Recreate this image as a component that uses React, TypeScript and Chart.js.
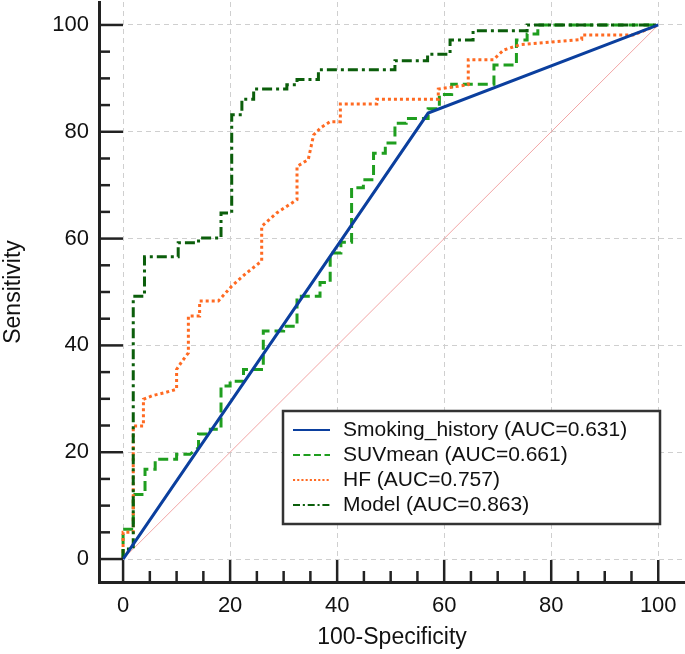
import React, { useEffect, useRef } from 'react';
import { Chart, registerables } from 'chart.js';

Chart.register(...registerables);

const FONT = "'Liberation Sans', Arial, Helvetica, sans-serif";

// Tick values
const majorTicks = [0, 20, 40, 60, 80, 100];
const minorTicks = [0, 5, 10, 15, 20, 25, 30, 35, 40, 45, 50, 55, 60, 65, 70, 75, 80, 85, 90, 95, 100];

const xAxisTitle = '100-Specificity';
const yAxisTitle = 'Sensitivity';

const seriesLabels = [
  'Smoking_history (AUC=0.631)',
  'SUVmean (AUC=0.661)',
  'HF (AUC=0.757)',
  'Model (AUC=0.863)',
];

// Smoking_history ROC
const smokingX = [0, 57.0, 100];
const smokingY = [0, 83.5, 100];

// SUVmean ROC
const suvX = [0, 0, 1.9, 1.9, 4.1, 4.1, 6.0, 6.0, 10.0, 10.0, 12.5, 14.1, 14.1, 16.3, 16.3, 18.3, 18.3, 20.0, 20.0, 22.5, 22.5, 26.2, 26.2, 30.0, 30.0, 32.5, 32.5, 36.8, 36.8, 38.7, 38.7, 40.7, 40.7, 42.7, 42.7, 44.9, 44.9, 46.8, 46.8, 49.0, 49.0, 50.8, 50.8, 52.9, 52.9, 57.0, 57.0, 59.1, 59.1, 61.4, 61.4, 69.3, 69.3, 73.5, 73.5, 75.5, 75.5, 77.5, 77.5, 100];
const suvY = [0, 5.6, 5.6, 12.1, 12.1, 16.8, 16.8, 18.7, 18.7, 19.6, 19.6, 20.9, 23.4, 23.4, 24.3, 24.3, 32.4, 32.4, 33.3, 33.3, 35.5, 35.5, 42.7, 42.7, 43.6, 43.6, 49.2, 49.2, 51.8, 51.8, 57.3, 57.3, 59.3, 59.3, 69.5, 69.5, 71.0, 71.0, 76.0, 76.0, 77.9, 77.9, 81.6, 81.6, 82.5, 82.5, 84.3, 84.3, 87.0, 87.0, 88.9, 88.9, 92.5, 92.5, 97.2, 97.2, 98.3, 98.3, 100, 100];

// HF ROC
const hfX = [0, 0, 1.9, 1.9, 3.8, 3.8, 5.5, 8.0, 10.0, 10.0, 11.0, 12.2, 12.2, 14.3, 14.3, 17.8, 20.3, 23.0, 25.9, 25.9, 28.7, 32.5, 32.5, 34.6, 35.6, 37.0, 38.7, 40.6, 40.6, 47.4, 47.4, 58.9, 58.9, 64.5, 64.5, 69.2, 71.1, 74.2, 80.0, 85.7, 85.7, 95.3, 100];
const hfY = [0, 5.0, 5.0, 24.9, 24.9, 29.9, 30.6, 31.2, 31.8, 35.5, 37.0, 38.6, 45.5, 45.5, 48.3, 48.3, 51.1, 53.5, 55.8, 62.3, 64.8, 67.3, 73.5, 74.8, 79.4, 80.8, 81.9, 81.9, 85.2, 85.2, 86.1, 86.1, 88.0, 88.8, 93.5, 93.5, 95.3, 96.3, 96.8, 97.3, 98.1, 98.1, 100];

// Model ROC
const modelX = [0, 0, 1.9, 1.9, 4.0, 4.0, 10.3, 10.3, 14.1, 14.1, 18.3, 18.3, 20.3, 20.3, 22.2, 22.2, 24.4, 24.4, 30.6, 30.6, 32.5, 32.5, 36.5, 36.5, 50.8, 50.8, 56.9, 56.9, 61.1, 61.1, 65.4, 65.4, 75.5, 75.5, 100];
const modelY = [0, 1.9, 1.9, 49.2, 49.2, 56.6, 56.6, 59.2, 59.2, 60.1, 60.1, 64.8, 64.8, 83.2, 83.2, 86.1, 86.1, 88.0, 88.0, 88.8, 88.8, 89.8, 89.8, 91.6, 91.6, 93.3, 93.3, 94.5, 94.5, 97.2, 97.2, 98.9, 98.9, 100, 100];

// Reference diagonal
const diagX = [0, 100];
const diagY = [0, 100];

const pairs = (xs: number[], ys: number[]) => xs.map((x, i) => ({ x, y: ys[i] }));

const seriesStyles = [
  { color: '#0b3f9e', dash: [] as number[], width: 3 },
  { color: '#1f9e1f', dash: [10, 5], width: 3 },
  { color: '#ff6a22', dash: [3, 3], width: 3 },
  { color: '#0b5e0b', dash: [10, 4, 3, 4], width: 3 },
];

const tickMarksPlugin = {
  id: 'tickMarks',
  afterDatasetsDraw(chart: any) {
    const { ctx, chartArea, scales } = chart;
    const x = scales.x;
    const y = scales.y;
    ctx.save();
    ctx.strokeStyle = '#222';
    ctx.lineWidth = 2.5;
    ctx.setLineDash([]);
    minorTicks.forEach((v) => {
      const major = majorTicks.includes(v);
      const px = x.getPixelForValue(v);
      ctx.beginPath();
      ctx.moveTo(px, chartArea.bottom);
      ctx.lineTo(px, chartArea.bottom - (major ? 22 : 11));
      ctx.stroke();
      const py = y.getPixelForValue(v);
      ctx.beginPath();
      ctx.moveTo(chartArea.left, py);
      ctx.lineTo(chartArea.left + (major ? 24 : 11), py);
      ctx.stroke();
    });
    ctx.restore();
  },
};

const legendPlugin = {
  id: 'boxLegend',
  afterDraw(chart: any) {
    const { ctx } = chart;
    const left = 283, top = 411, right = 660, bottom = 524;
    ctx.save();
    ctx.fillStyle = '#ffffff';
    ctx.fillRect(left, top, right - left, bottom - top);
    ctx.strokeStyle = '#333';
    ctx.lineWidth = 2.5;
    ctx.setLineDash([]);
    ctx.strokeRect(left, top, right - left, bottom - top);
    seriesLabels.forEach((label, i) => {
      const st = seriesStyles[i];
      const yy = top + 19 + i * 25;
      ctx.strokeStyle = st.color;
      ctx.lineWidth = 2;
      ctx.setLineDash(st.dash.map((d) => Math.max(2, d * 0.7)));
      ctx.beginPath();
      ctx.moveTo(293, yy);
      ctx.lineTo(330, yy);
      ctx.stroke();
      ctx.setLineDash([]);
      ctx.fillStyle = '#111';
      ctx.font = `21px ${FONT}`;
      ctx.textBaseline = 'middle';
      ctx.textAlign = 'left';
      ctx.fillText(label, 343, yy);
    });
    ctx.restore();
  },
};

export default function App() {
  const ref = useRef<HTMLCanvasElement | null>(null);

  useEffect(() => {
    if (!ref.current) return;
    const seriesData = [
      pairs(smokingX, smokingY),
      pairs(suvX, suvY),
      pairs(hfX, hfY),
      pairs(modelX, modelY),
    ];
    const datasets: any[] = seriesData.map((d, i) => ({
      label: seriesLabels[i],
      data: d,
      borderColor: seriesStyles[i].color,
      borderWidth: seriesStyles[i].width,
      borderDash: seriesStyles[i].dash,
      pointRadius: 0,
      showLine: true,
      fill: false,
      tension: 0,
      order: i === 0 ? 1 : 5 - i + 1,
    }));
    datasets.push({
      label: 'reference',
      data: pairs(diagX, diagY),
      borderColor: '#f2a5a5',
      borderWidth: 1,
      pointRadius: 0,
      showLine: true,
      fill: false,
      order: 20,
    });

    const setTicks = (scale: any) => {
      scale.ticks = majorTicks.map((v) => ({ value: v }));
    };

    const chart = new Chart(ref.current, {
      type: 'scatter',
      data: { datasets },
      options: {
        animation: false,
        responsive: false,
        layout: { padding: { top: 2, right: 0, left: 0, bottom: 0 } },
        plugins: { legend: { display: false }, tooltip: { enabled: false } },
        scales: {
          x: {
            type: 'linear',
            min: -4.5,
            max: 105,
            afterBuildTicks: setTicks,
            afterFit: (s: any) => { s.height = 72; s.paddingLeft = 0; s.paddingRight = 0; },
            grid: { color: '#cfcfcf', lineWidth: 1, drawTicks: false },
            border: { display: true, color: '#222', width: 3, dash: [5, 4] },
            ticks: {
              padding: 11,
              color: '#111',
              font: { family: FONT, size: 22 },
              callback: (v: any) => String(v),
              maxRotation: 0,
            },
            title: {
              display: true,
              text: xAxisTitle,
              color: '#111',
              font: { family: FONT, size: 23 },
              padding: { top: 0, bottom: 3 },
            },
          },
          y: {
            type: 'linear',
            min: -4.3,
            max: 104.3,
            afterBuildTicks: setTicks,
            afterFit: (s: any) => { s.width = 99; s.paddingTop = 0; s.paddingBottom = 0; },
            grid: { color: '#cfcfcf', lineWidth: 1, drawTicks: false },
            border: { display: true, color: '#222', width: 3, dash: [5, 4] },
            ticks: {
              padding: 10,
              color: '#111',
              font: { family: FONT, size: 22 },
              callback: (v: any) => String(v),
            },
            title: {
              display: true,
              text: yAxisTitle,
              color: '#111',
              font: { family: FONT, size: 23 },
              padding: { top: 0, bottom: 0 },
            },
          },
        },
      },
      plugins: [tickMarksPlugin, legendPlugin],
    });
    return () => chart.destroy();
  }, []);

  return (
    <div style={{ position: 'fixed', left: 0, top: 0, width: 685, height: 654, background: '#fff' }}>
      <canvas ref={ref} width={685} height={654} style={{ display: 'block' }} />
    </div>
  );
}
